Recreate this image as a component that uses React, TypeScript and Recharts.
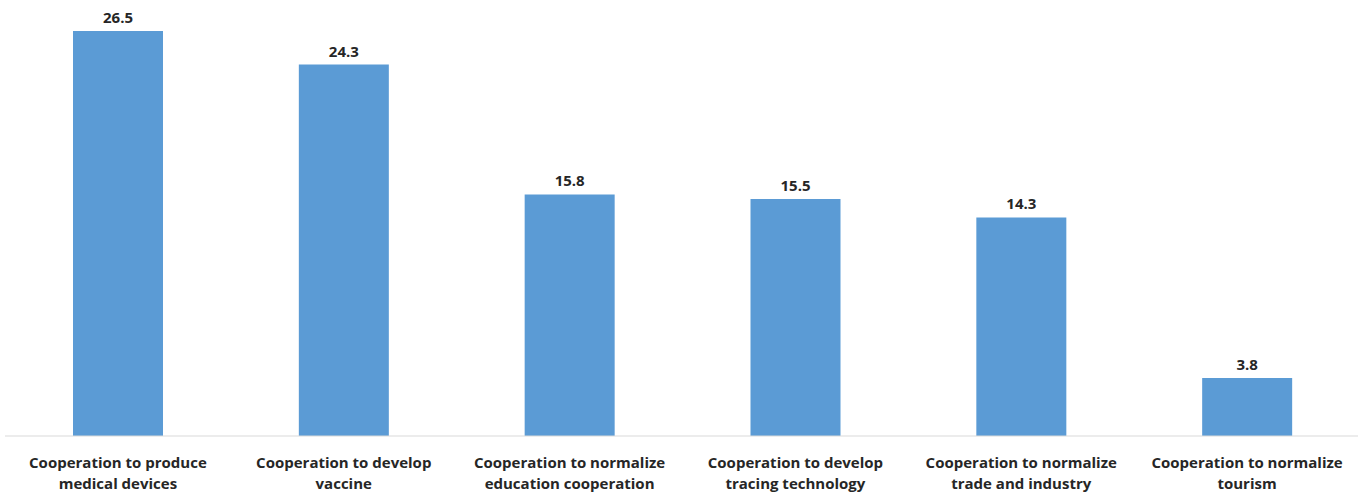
import React from 'react';
import { BarChart, Bar, XAxis, YAxis, LabelList } from 'recharts';

const categories = [
  'Cooperation to produce|medical devices',
  'Cooperation to develop|vaccine',
  'Cooperation to normalize|education cooperation',
  'Cooperation to develop|tracing technology',
  'Cooperation to normalize|trade and industry',
  'Cooperation to normalize|tourism',
];
const values = [26.5, 24.3, 15.8, 15.5, 14.3, 3.8];

const data = categories.map((name, i) => ({ name, value: values[i] }));

const FONT = '"Open Sans", "Liberation Sans", sans-serif';

const CategoryTick = (props: any) => {
  const { x, y, payload } = props;
  const lines = String(payload.value).split('|');
  return (
    <text x={x} y={y} textAnchor="middle" fill="#262626" fontFamily={FONT} fontWeight={700} fontSize={15}>
      {lines.map((line, i) => (
        <tspan key={i} x={x} dy={i === 0 ? 24 : 21}>
          {line}
        </tspan>
      ))}
    </text>
  );
};

const App: React.FC = () => {
  return (
    <div style={{ position: 'absolute', left: 0, top: 0, width: 1358, height: 493, background: '#fff' }}>
      <BarChart width={1358} height={493} data={data} margin={{ top: 8, right: -2, left: 5, bottom: 0 }}>
        <XAxis
          dataKey="name"
          interval={0}
          height={57}
          tickLine={false}
          axisLine={{ stroke: '#d9d9d9', strokeWidth: 1 }}
          tick={<CategoryTick />}
        />
        <YAxis hide domain={[0, 28]} />
        <Bar dataKey="value" fill="#5b9bd5" barSize={90} isAnimationActive={false}>
          <LabelList
            dataKey="value"
            position="top"
            offset={8}
            fill="#262626"
            fontFamily={FONT}
            fontWeight={700}
            fontSize={15}
            formatter={(v: any) => Number(v).toFixed(1)}
          />
        </Bar>
      </BarChart>
    </div>
  );
};

export default App;
